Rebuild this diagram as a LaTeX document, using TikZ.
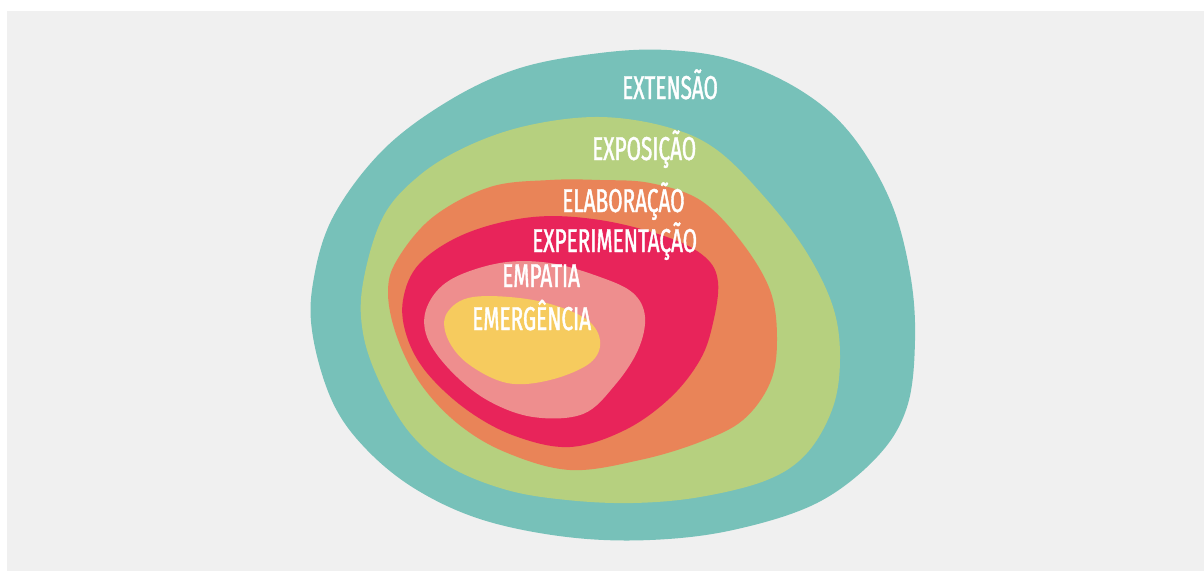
\documentclass[tikz,border=0pt]{standalone}
\usepackage{fontspec}
\newfontfamily\lblfont[FakeStretch=0.63, FakeBold=1.2]{Fira Sans}
\definecolor{bgGray}{HTML}{F0F0F0}
\definecolor{cTeal}{HTML}{77C1B9}
\definecolor{cGreen}{HTML}{B6D07F}
\definecolor{cOrange}{HTML}{E98458}
\definecolor{cRed}{HTML}{E8245A}
\definecolor{cPink}{HTML}{EE8E8E}
\definecolor{cYellow}{HTML}{F6CB5E}

\begin{document}
\begin{tikzpicture}[
    x=1pt, y=-1pt,
    layer/.style={fill=#1, draw=none},
    lbl/.style={text=white, anchor=base west, inner sep=0pt, font=\lblfont\fontsize{33}{33}\selectfont}
]

% Canvas
\fill[white] (0,0) rectangle (1204,571);
\fill[bgGray] (7,11) rectangle (1204,571);
\useasboundingbox (0,0) rectangle (1204,571);

% Nested layers, outside in
\fill[layer=cTeal] plot[smooth cycle, tension=0.6] coordinates {
    (313,283) (313,337) (333,403) (367,450) (417,490) (483,520)
    (567,537) (650,540) (733,530) (817,503) (877,457) (907,407)
    (915,340) (910,273) (890,200) (850,133) (800,90) (733,60)
    (667,50) (600,53) (520,68) (450,100) (383,150) (333,217)};
\fill[layer=cGreen] plot[smooth cycle, tension=0.6] coordinates {
    (363,283) (363,333) (380,383) (410,433) (450,467) (507,490)
    (567,500) (633,503) (700,497) (767,480) (807,453) (833,407)
    (840,357) (833,307) (807,253) (767,200) (717,150) (667,127)
    (600,117) (530,125) (470,145) (420,175) (383,217)};
\fill[layer=cOrange] plot[smooth cycle, tension=0.6] coordinates {
    (388,293) (397,337) (420,383) (457,423) (505,452) (570,470)
    (640,460) (700,442) (743,420) (770,383) (777,340) (770,290)
    (740,240) (700,200) (650,183) (600,180) (550,180) (490,187)
    (433,217) (397,260)};
\fill[layer=cRed] plot[smooth cycle, tension=0.6] coordinates {
    (403,300) (407,337) (427,373) (467,410) (515,436) (570,447)
    (625,430) (670,398) (700,360) (713,323) (718,282) (705,257)
    (667,237) (600,220) (533,217) (467,233) (420,263)};
\fill[layer=cPink] plot[smooth cycle, tension=0.6] coordinates {
    (427,307) (427,337) (450,370) (487,400) (533,417) (583,414)
    (615,385) (638,350) (645,317) (633,293) (600,277) (550,263)
    (500,263) (450,280)};
\fill[layer=cYellow] plot[smooth cycle, tension=0.6] coordinates {
    (447,313) (447,337) (467,363) (507,383) (550,380) (590,363)
    (600,340) (583,317) (533,300) (473,297)};

% Labels
\foreach \nm/\lx/\ly/\txt in {
    extensao/622/99/EXTENSÃO,
    exposicao/592/160/EXPOSIÇÃO,
    elaboracao/562/212/ELABORAÇÃO,
    experimentacao/532/252/EXPERIMENTAÇÃO,
    empatia/502/287/EMPATIA,
    emergencia/472/330/EMERGÊNCIA}
    \node[lbl] (\nm) at (\lx,\ly) {\txt};

\end{tikzpicture}
\end{document}
